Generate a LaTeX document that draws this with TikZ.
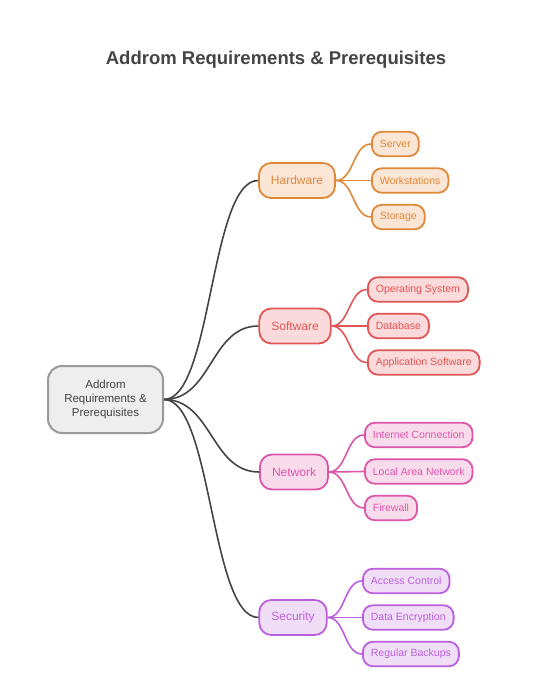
\documentclass[tikz,border=0pt]{standalone}
\usepackage{fontspec}
\setmainfont{Liberation Sans}
\usetikzlibrary{positioning}

\definecolor{inkgray}{HTML}{444444}
\definecolor{rootline}{HTML}{9A9A9A}
\definecolor{rootfill}{HTML}{EEEEEE}
\definecolor{hwline}{HTML}{E0883A}
\definecolor{hwfill}{HTML}{FBE5D4}
\definecolor{swline}{HTML}{E05555}
\definecolor{swfill}{HTML}{FADADA}
\definecolor{netline}{HTML}{DD55AA}
\definecolor{netfill}{HTML}{F9DCEC}
\definecolor{secline}{HTML}{BC5FDF}
\definecolor{secfill}{HTML}{F0DEF7}

\begin{document}
\begin{tikzpicture}[
    x=1pt, y=-1pt,
    rootbox/.style={draw=rootline, fill=rootfill, line width=2pt, rounded corners=14pt,
        minimum width=115pt, minimum height=67pt, align=center, text=inkgray,
        font=\fontsize{11.5}{14}\selectfont},
    catbox/.style={line width=1.8pt, rounded corners=12pt, minimum height=35pt,
        inner xsep=12pt, font=\fontsize{12}{14}\selectfont},
    leafbox/.style={line width=1.8pt, rounded corners=10pt, minimum height=24.5pt,
        inner xsep=8pt, anchor=west, font=\fontsize{10.5}{12}\selectfont},
    hwcol/.style={draw=hwline, fill=hwfill, text=hwline},
    swcol/.style={draw=swline, fill=swfill, text=swline},
    netcol/.style={draw=netline, fill=netfill, text=netline},
    seccol/.style={draw=secline, fill=secfill, text=secline},
    trunk/.style={draw=inkgray, line width=1.6pt},
    twig/.style={line width=1.6pt}
]
\useasboundingbox (0,0) rectangle (552,700);

\node[font=\bfseries\fontsize{18.5}{22}\selectfont, text=inkgray] (title) at (276,60) {Addrom Requirements \& Prerequisites};

\node[rootbox] (root) at (105.5,399.5) {Addrom\\Requirements \&\\Prerequisites};

% categories
\node[catbox, hwcol] (hardware) at (297,180.5) {Hardware};
\node[catbox, swcol] (software) at (295,326) {Software};
\node[catbox, netcol] (network) at (294,472) {Network};
\node[catbox, seccol] (security) at (293,617.5) {Security};

% leaves
\node[leafbox, hwcol] (server) at (371,144) {Server};
\node[leafbox, hwcol] (workst) at (371,180.5) {Workstations};
\node[leafbox, hwcol] (storage) at (371,217) {Storage};

\node[leafbox, swcol] (opsys) at (367,289.5) {Operating System};
\node[leafbox, swcol] (database) at (367,326) {Database};
\node[leafbox, swcol] (appsoft) at (367,362.5) {Application Software};

\node[leafbox, netcol] (internet) at (364,435) {Internet Connection};
\node[leafbox, netcol] (lan) at (364,471.5) {Local Area Network};
\node[leafbox, netcol] (firewall) at (364,508) {Firewall};

\node[leafbox, seccol] (access) at (362,581) {Access Control};
\node[leafbox, seccol] (encrypt) at (362,617.5) {Data Encryption};
\node[leafbox, seccol] (backups) at (362,654) {Regular Backups};

% connectors
\draw[trunk] (root.east) .. controls +(48,0) and +(-48,0) .. (hardware.west);
\draw[trunk] (root.east) .. controls +(48,0) and +(-48,0) .. (software.west);
\draw[trunk] (root.east) .. controls +(48,0) and +(-48,0) .. (network.west);
\draw[trunk] (root.east) .. controls +(48,0) and +(-48,0) .. (security.west);

\draw[twig, hwline] (hardware.east) .. controls +(18,0) and +(-18,0) .. (server.west);
\draw[twig, hwline] (hardware.east) -- (workst.west);
\draw[twig, hwline] (hardware.east) .. controls +(18,0) and +(-18,0) .. (storage.west);

\draw[twig, swline] (software.east) .. controls +(18,0) and +(-18,0) .. (opsys.west);
\draw[twig, swline] (software.east) -- (database.west);
\draw[twig, swline] (software.east) .. controls +(18,0) and +(-18,0) .. (appsoft.west);

\draw[twig, netline] (network.east) .. controls +(18,0) and +(-18,0) .. (internet.west);
\draw[twig, netline] (network.east) -- (lan.west);
\draw[twig, netline] (network.east) .. controls +(18,0) and +(-18,0) .. (firewall.west);

\draw[twig, secline] (security.east) .. controls +(18,0) and +(-18,0) .. (access.west);
\draw[twig, secline] (security.east) -- (encrypt.west);
\draw[twig, secline] (security.east) .. controls +(18,0) and +(-18,0) .. (backups.west);
\end{tikzpicture}
\end{document}
